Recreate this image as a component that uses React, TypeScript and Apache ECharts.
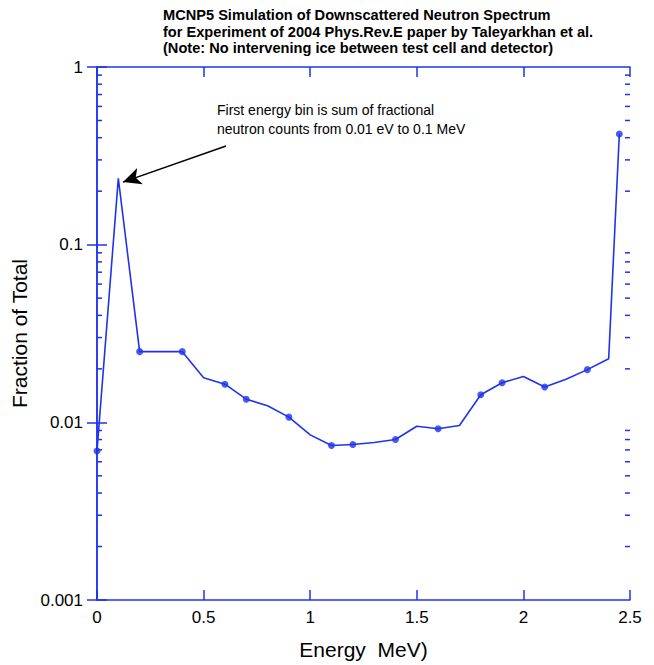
import React, { useEffect, useRef } from "react";
import * as echarts from "echarts";

const titleLines = [
  "MCNP5 Simulation of Downscattered Neutron Spectrum",
  "for Experiment of 2004 Phys.Rev.E paper by Taleyarkhan et al.",
  "(Note: No intervening ice between test cell and detector)",
];
const annotationLines = [
  "First energy bin is sum of fractional",
  "neutron counts from 0.01 eV to 0.1 MeV",
];
const energies = [0, 0.1, 0.2, 0.4, 0.5, 0.6, 0.7, 0.8, 0.9, 1.0, 1.1, 1.2, 1.3, 1.4, 1.5, 1.6, 1.7, 1.8, 1.9, 2.0, 2.1, 2.2, 2.3, 2.4, 2.45];
const fractions = [0.0069, 0.236, 0.025, 0.025, 0.0178, 0.0164, 0.0135, 0.0124, 0.0107, 0.0085, 0.0074, 0.0075, 0.0077, 0.008, 0.0095, 0.0092, 0.0096, 0.0143, 0.0167, 0.0181, 0.0158, 0.0175, 0.0198, 0.0228, 0.42];
const markedEnergies = [0, 0.2, 0.4, 0.6, 0.7, 0.9, 1.1, 1.2, 1.4, 1.6, 1.8, 1.9, 2.1, 2.3, 2.45];
const xTickLabels = ["0", "0.5", "1", "1.5", "2", "2.5"];
const yTickLabels = ["0.001", "0.01", "0.1", "1"];
const arrowFrom = [0.605, 0.359];
const arrowTo = [0.122, 0.225];

const BLUE = "#1f33ee";
const FONT = "'Liberation Sans', Arial, Helvetica, sans-serif";

export default function App() {
  const ref = useRef<HTMLDivElement>(null);
  useEffect(() => {
    if (!ref.current) return;
    const chart = echarts.init(ref.current, undefined, { renderer: "svg" });
    const lineData = energies.map((e, i) => [e, fractions[i]]);
    const markerData = markedEnergies.map((e) => [e, fractions[energies.indexOf(e)]]);
    const minorTicks: number[][] = [];
    [0.001, 0.01, 0.1].forEach((d) => {
      for (let k = 2; k <= 9; k++) minorTicks.push([d * k]);
    });
    const xmin = 0, xmax = 2.5;
    chart.setOption({
      animation: false,
      backgroundColor: "#ffffff",
      textStyle: { fontFamily: FONT },
      title: {
        text: titleLines.join("\n"),
        left: 163,
        top: 7,
        padding: 0,
        textStyle: { fontFamily: FONT, fontSize: 14.6, fontWeight: "bold", color: "#000", lineHeight: 16.5 },
      },
      grid: { left: 97, right: 24, top: 67, bottom: 65, containLabel: false },
      xAxis: [
        {
          type: "value",
          min: xmin,
          max: xmax,
          interval: 0.5,
          name: "Energy  MeV)",
          nameLocation: "middle",
          nameGap: 39,
          nameTextStyle: { fontFamily: FONT, fontSize: 21, color: "#000" },
          axisLine: { show: true, lineStyle: { color: BLUE, width: 1.5 } },
          axisTick: { show: true, inside: true, length: 10, lineStyle: { color: BLUE, width: 1.5 } },
          axisLabel: {
            margin: 9,
            fontFamily: FONT,
            fontSize: 17,
            color: "#000",
            formatter: (v: number) => xTickLabels[Math.round(v / 0.5)] ?? "",
          },
          splitLine: { show: false },
        },
        {
          type: "value",
          position: "top",
          min: xmin,
          max: xmax,
          interval: 0.5,
          axisLine: { show: true, lineStyle: { color: BLUE, width: 1.5 } },
          axisTick: { show: true, inside: true, length: 10, lineStyle: { color: BLUE, width: 1.5 } },
          axisLabel: { show: false },
          splitLine: { show: false },
        },
      ],
      yAxis: [
        {
          type: "log",
          logBase: 10,
          min: 0.001,
          max: 1,
          name: "Fraction of Total",
          nameLocation: "middle",
          nameRotate: 90,
          nameGap: 64,
          nameTextStyle: { fontFamily: FONT, fontSize: 21, color: "#000" },
          axisLine: { show: true, lineStyle: { color: BLUE, width: 1.5 } },
          axisTick: { show: true, inside: true, length: 10, lineStyle: { color: BLUE, width: 1.5 } },
          axisLabel: {
            margin: 14,
            fontFamily: FONT,
            fontSize: 17,
            color: "#000",
            formatter: (v: number) => yTickLabels[Math.round(Math.log10(v)) + 3] ?? "",
          },
          splitLine: { show: false },
        },
        {
          type: "log",
          logBase: 10,
          min: 0.001,
          max: 1,
          position: "right",
          axisLine: { show: true, lineStyle: { color: BLUE, width: 1.5 } },
          axisTick: { show: true, inside: true, length: 10, lineStyle: { color: BLUE, width: 1.5 } },
          axisLabel: { show: false },
          splitLine: { show: false },
        },
      ],
      graphic: [
        {
          type: "text",
          left: 217,
          top: 100,
          style: {
            text: annotationLines.join("\n"),
            font: `14px ${FONT}`,
            fill: "#000",
            lineHeight: 19,
          },
        },
      ],
      series: [
        {
          type: "custom",
          xAxisIndex: 0,
          yAxisIndex: 0,
          silent: true,
          clip: false,
          data: minorTicks,
          encode: { y: 0 },
          renderItem: (params: any, api: any) => {
            const v = api.value(0);
            const l = api.coord([xmin, v]);
            const r = api.coord([xmax, v]);
            const st = { stroke: BLUE, lineWidth: 1.5 };
            return {
              type: "group",
              children: [
                { type: "line", shape: { x1: l[0], y1: l[1], x2: l[0] + 5, y2: l[1] }, style: st },
                { type: "line", shape: { x1: r[0], y1: r[1], x2: r[0] - 5, y2: r[1] }, style: st },
              ],
            };
          },
        },
        {
          type: "line",
          xAxisIndex: 0,
          yAxisIndex: 0,
          data: lineData,
          showSymbol: false,
          symbol: "none",
          lineStyle: { color: BLUE, width: 1.6 },
          itemStyle: { color: BLUE },
          markLine: {
            silent: true,
            symbol: ["none", "arrow"],
            symbolSize: [13, 18],
            label: { show: false },
            lineStyle: { color: "#000", width: 1.5, type: "solid" },
            data: [[{ coord: arrowFrom }, { coord: arrowTo }]],
          },
        },
        {
          type: "scatter",
          xAxisIndex: 0,
          yAxisIndex: 0,
          data: markerData,
          symbol: "circle",
          symbolSize: 7,
          itemStyle: { color: BLUE },
        },
      ],
    });
    return () => chart.dispose();
  }, []);
  return <div ref={ref} style={{ position: "absolute", left: 0, top: 0, width: 654, height: 665 }} />;
}
